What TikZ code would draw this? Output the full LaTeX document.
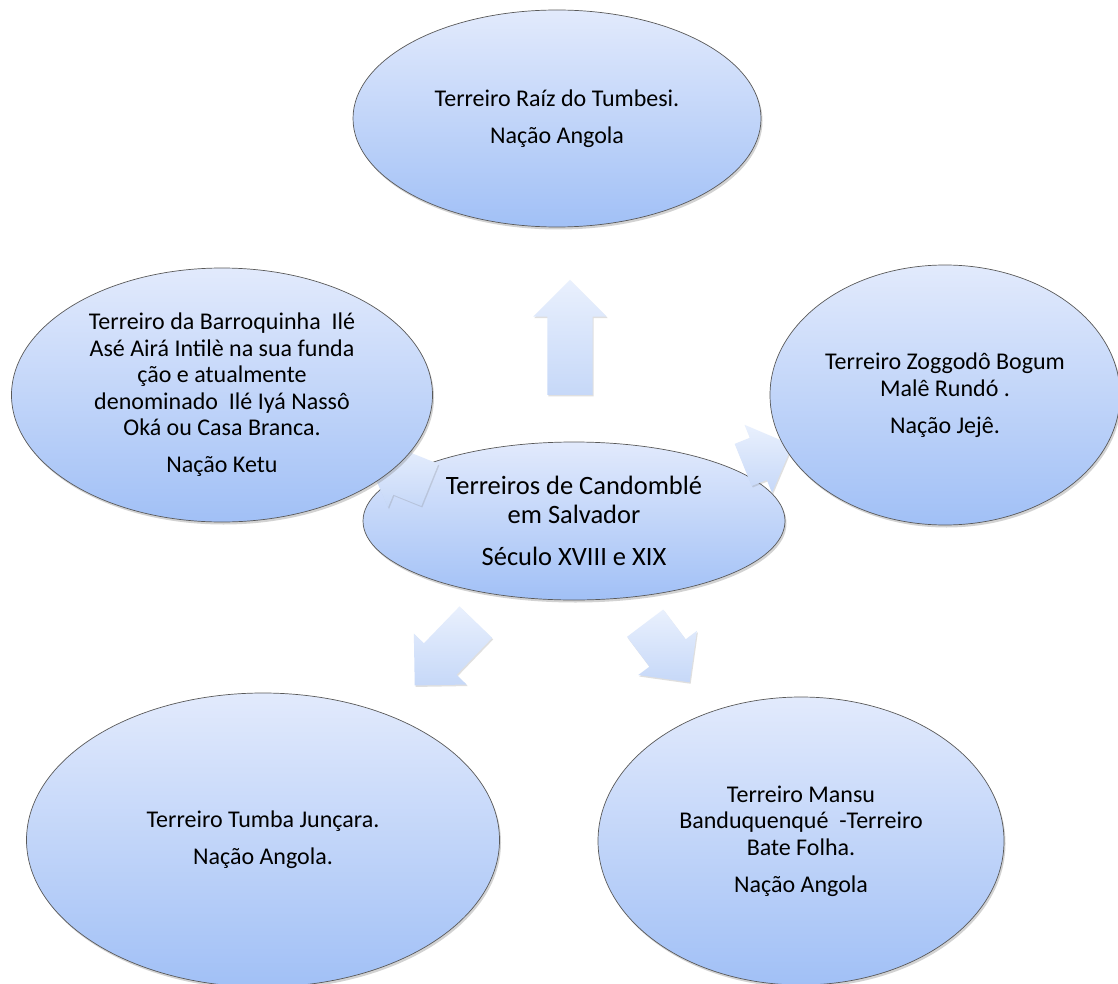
\documentclass[tikz,border=0pt]{standalone}
\usepackage{fontspec}
\setmainfont{Carlito}
\usetikzlibrary{shapes.geometric,shapes.arrows,shadows}

\definecolor{blobtop}{RGB}{226,234,252}
\definecolor{blobbot}{RGB}{161,192,246}
\definecolor{arwtop}{RGB}{233,240,253}
\definecolor{arwbot}{RGB}{198,216,248}

\begin{document}
\begin{tikzpicture}[x=1pt,y=1pt]
    \tikzstyle{every node}=[inner sep=0,align=center]
    \tikzstyle{blob}=[ellipse,draw=black!65,line width=0.7,top color=blobtop,bottom color=blobbot,
        drop shadow={shadow xshift=1.5,shadow yshift=-2.5,opacity=.35},
        font=\fontsize{24}{26.5}\selectfont]
    \tikzstyle{hub}=[blob,font=\fontsize{26.5}{28.5}\selectfont]
    \tikzstyle{arw}=[single arrow,anchor=tail,inner xsep=0,inner ysep=22.5,single arrow head extend=14,
        top color=arwtop,bottom color=arwbot,draw=none,
        drop shadow={shadow xshift=1,shadow yshift=-1.5,opacity=.25}]

    \path[use as bounding box,fill=white] (0,0) rectangle (1118,-984);

    % centro
    \node[hub,minimum width=422,minimum height=158] (centro) at (574,-521)
        {Terreiros de Candomblé\\ em Salvador\\[13.5pt] Século XVIII e XIX};

    % setas
    \foreach \name/\x/\y/\ang/\len in {sTop/570/395/90/115,sBL/476/622/226/88,sBR/645/623/307/74,
        sL/430/485/158/67,sR/743/465/22/53} {
        \node[arw,rotate=\ang,minimum height=\len] (\name) at (\x,-\y) {};
    }

    % terreiros
    \node[blob,minimum width=408,minimum height=217] (raiz) at (557,-118.5)
        {Terreiro Raíz do Tumbesi.\\[10.5pt] Nação Angola};
    \node[blob,minimum width=421,minimum height=254] (barroquinha) at (222,-395)
        {Terreiro da Barroquinha~ Ilé\\ Asé Airá Intilè na sua funda\\ ção e atualmente\\
         denominado~ Ilé Iyá Nassô\\ Oká ou Casa Branca.\\[10.5pt] Nação Ketu};
    \node[blob,minimum width=350,minimum height=260] (bogum) at (945,-395)
        {Terreiro Zoggodô Bogum\\ Malê Rundó .\\[10.5pt] Nação Jejê.};
    \node[blob,minimum width=473,minimum height=294] (tumba) at (263,-840)
        {Terreiro Tumba Junçara.\\[10.5pt] Nação Angola.};
    \node[blob,minimum width=406,minimum height=288] (bate) at (801,-841)
        {Terreiro Mansu\\ Banduquenqué~ -Terreiro\\ Bate Folha.\\[10.5pt] Nação Angola};
\end{tikzpicture}
\end{document}
